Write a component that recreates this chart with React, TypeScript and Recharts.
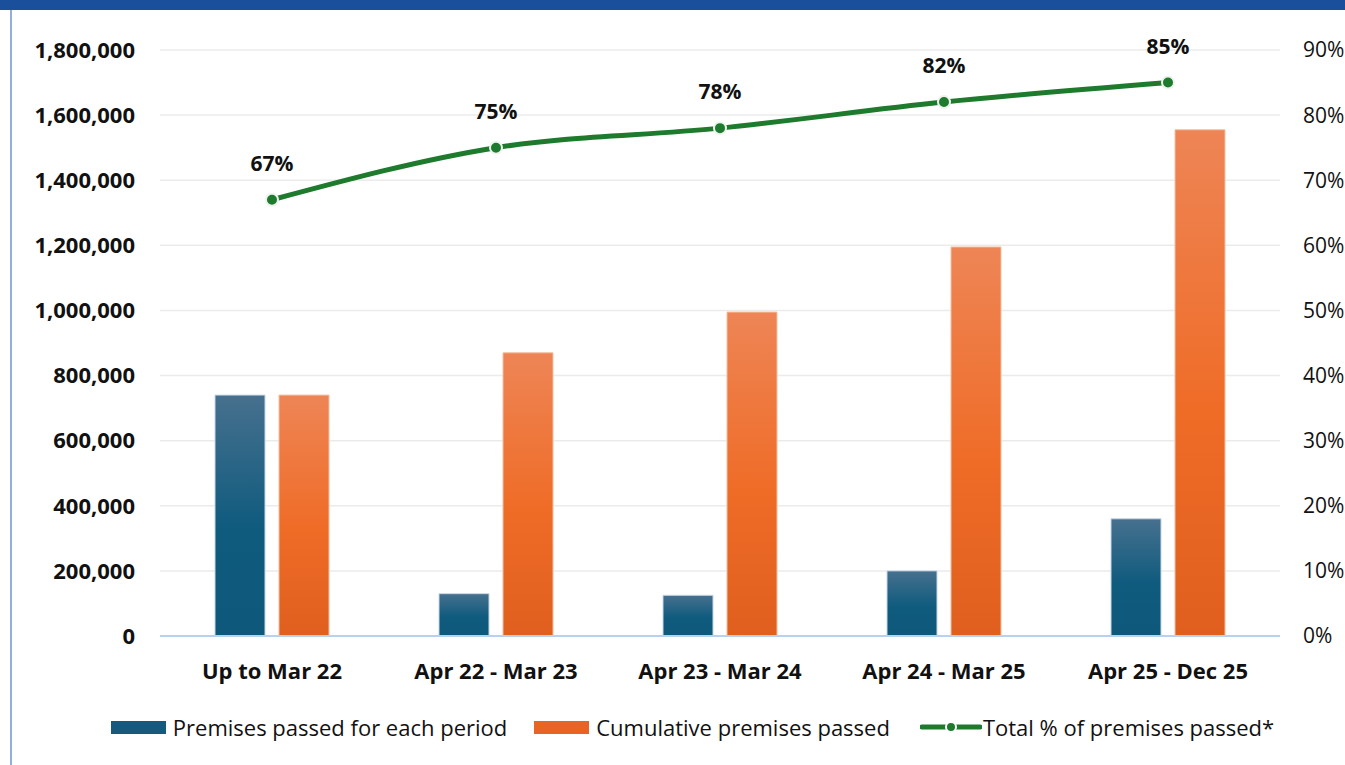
import React from 'react'
import {
  ComposedChart,
  Bar,
  Line,
  XAxis,
  YAxis,
  CartesianGrid,
  Legend,
  LabelList,
} from 'recharts'

const periods = ['Up to Mar 22', 'Apr 22 - Mar 23', 'Apr 23 - Mar 24', 'Apr 24 - Mar 25', 'Apr 25 - Dec 25']
const perPeriod = [740000, 130000, 125000, 200000, 360000]
const cumulative = [740000, 870000, 995000, 1195000, 1555000]
const totalPct = [67, 75, 78, 82, 85]
const leftTicks = [0, 200000, 400000, 600000, 800000, 1000000, 1200000, 1400000, 1600000, 1800000]
const rightTicks = [0, 10, 20, 30, 40, 50, 60, 70, 80, 90]

const data = periods.map((p, i) => ({
  period: p,
  perPeriod: perPeriod[i],
  cumulative: cumulative[i],
  pct: totalPct[i],
}))

const FONT = '"Open Sans", Lato, sans-serif'
const GREEN = '#1e7a2c'

const LegendContent = () => (
  <div
    style={{
      display: 'flex',
      justifyContent: 'center',
      alignItems: 'center',
      fontFamily: FONT,
      fontSize: 22,
      color: '#111',
      paddingTop: 6,
      paddingLeft: 40,
    }}
  >
    <div style={{ display: 'flex', alignItems: 'center', marginRight: 27 }}>
      <span style={{ width: 55, height: 13, background: '#17597c', marginRight: 7 }} />
      Premises passed for each period
    </div>
    <div style={{ display: 'flex', alignItems: 'center', marginRight: 30 }}>
      <span style={{ width: 55, height: 13, background: '#e86424', marginRight: 7 }} />
      Cumulative premises passed
    </div>
    <div style={{ display: 'flex', alignItems: 'center' }}>
      <svg width={62} height={16} style={{ marginRight: 1 }}>
        <line x1={2} y1={8} x2={60} y2={8} stroke={GREEN} strokeWidth={5} strokeLinecap="round" />
        <circle cx={31} cy={8} r={5} fill={GREEN} stroke="#fff" strokeWidth={2} />
      </svg>
      Total % of premises passed*
    </div>
  </div>
)

export default function App() {
  return (
    <div style={{ position: 'absolute', left: 0, top: 0, width: 1345, height: 765, background: '#fff', overflow: 'hidden' }}>
      <div style={{ position: 'absolute', left: 0, top: 0, width: 1345, height: 10, background: '#1a4f9c' }} />
      <div style={{ position: 'absolute', left: 10, top: 10, width: 2, height: 755, background: '#8fb0dc' }} />
      <ComposedChart
        width={1345}
        height={765}
        data={data}
        margin={{ top: 50, right: 0, left: 0, bottom: 12 }}
        barGap={14}
        barCategoryGap={55}
      >
        <defs>
          <linearGradient id="gradBlue" x1="0" y1="0" x2="0" y2="1">
            <stop offset="0%" stopColor="#47708e" />
            <stop offset="55%" stopColor="#0f5b7e" />
            <stop offset="100%" stopColor="#0d587b" />
          </linearGradient>
          <linearGradient id="gradOrange" x1="0" y1="0" x2="0" y2="1">
            <stop offset="0%" stopColor="#ee8556" />
            <stop offset="55%" stopColor="#ef6c27" />
            <stop offset="100%" stopColor="#e05f1e" />
          </linearGradient>
        </defs>
        <CartesianGrid stroke="#ebebeb" strokeWidth={1.5} vertical={false} yAxisId="left" />
        <XAxis
          dataKey="period"
          height={70}
          tickSize={0}
          tickMargin={27}
          axisLine={{ stroke: '#b7d1ef', strokeWidth: 2 }}
          tick={{ fontSize: 22, fontWeight: 700, fill: '#111', fontFamily: FONT }}
        />
        <YAxis
          yAxisId="left"
          width={160}
          domain={[0, 1800000]}
          ticks={leftTicks}
          tickSize={0}
          tickMargin={25}
          axisLine={false}
          tickFormatter={(v: number) => v.toLocaleString('en-US')}
          tick={{ fontSize: 22, fontWeight: 700, fill: '#111', fontFamily: FONT }}
        />
        <YAxis
          yAxisId="right"
          orientation="right"
          width={65}
          domain={[0, 90]}
          ticks={rightTicks}
          tickSize={0}
          tickMargin={23}
          axisLine={false}
          tickFormatter={(v: number) => `${v}%`}
          tick={{ fontSize: 21, fill: '#111', fontFamily: FONT, textAnchor: 'start' }}
        />
        <Legend verticalAlign="bottom" height={47} content={<LegendContent />} />
        <Bar
          yAxisId="left"
          dataKey="perPeriod"
          name="Premises passed for each period"
          fill="url(#gradBlue)"
          stroke="#c6d6e6"
          strokeWidth={1}
          isAnimationActive={false}
        />
        <Bar
          yAxisId="left"
          dataKey="cumulative"
          name="Cumulative premises passed"
          fill="url(#gradOrange)"
          stroke="#f3c0a2"
          strokeWidth={1}
          isAnimationActive={false}
        />
        <Line
          yAxisId="right"
          type="monotone"
          dataKey="pct"
          name="Total % of premises passed*"
          stroke={GREEN}
          strokeWidth={5}
          dot={{ r: 6, fill: GREEN, stroke: '#eef3ee', strokeWidth: 2 }}
          isAnimationActive={false}
        >
          <LabelList
            dataKey="pct"
            position="top"
            offset={29}
            formatter={(v: number) => `${v}%`}
            style={{ fontSize: 21, fontWeight: 700, fill: '#111', fontFamily: FONT }}
          />
        </Line>
      </ComposedChart>
    </div>
  )
}
